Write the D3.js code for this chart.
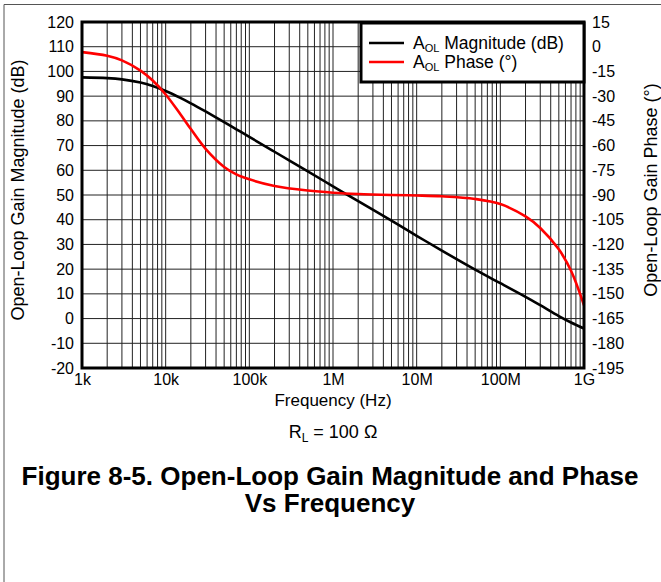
<!DOCTYPE html>
<html>
<head>
<meta charset="utf-8">
<script src="https://cdn.jsdelivr.net/npm/d3@7"></script>
<style>
  body { margin: 0; background: #fff; }
  text { font-family: Arial, "Liberation Sans", sans-serif; fill: #000; }
</style>
</head>
<body>
<script>
// frequency points (Hz)
var freqs = [1e3, 2e3, 3e3, 5e3, 7e3, 1e4, 1.5e4, 2e4, 3e4, 5e4, 7e4, 1e5, 2e5, 5e5,
             1e6, 2e6, 5e6, 1e7, 2e7, 5e7, 1e8, 2e8, 3e8, 5e8, 7e8, 1e9];
var magnitude = [97.6, 97.3, 96.8, 95.5, 94.1, 92.1, 89.3, 87.1, 83.8, 79.5, 76.6, 73.5, 67.5, 59.6,
                 53.5, 47.5, 39.6, 33.5, 27.5, 19.8, 14.3, 8.8, 5.4, 1.0, -1.6, -4.0];
var phase = [-3.3, -5.5, -8.3, -14.5, -20.5, -29, -41, -50, -62, -73, -77.5, -80.5, -84.5, -87.3,
             -88.6, -89.4, -90, -90.3, -90.8, -92.4, -95.5, -103, -110, -123, -136, -157];

var xTicks = [1e3, 1e4, 1e5, 1e6, 1e7, 1e8, 1e9];
var xTickLabels = ["1k", "10k", "100k", "1M", "10M", "100M", "1G"];
var magTicks = d3.range(-20, 121, 10);
var phaseTicks = d3.range(-195, 16, 15);

var W = 661, H = 582;
var margin = {top: 22, right: 77, bottom: 214, left: 82};
var plotW = W - margin.left - margin.right,
    plotH = H - margin.top - margin.bottom;

var svg = d3.select("body")
    .append("svg")
        .attr("width", W)
        .attr("height", H);

// outer frame of the figure
svg.append("path")
    .attr("d", "M4,582 V4.5 H661")
    .attr("fill", "none")
    .attr("stroke", "#555")
    .attr("stroke-width", 1);

var g = svg.append("g")
    .attr("transform", "translate(" + margin.left + "," + margin.top + ")");

var x = d3.scaleLog().domain([1e3, 1e9]).range([0, plotW]);
var yMag = d3.scaleLinear().domain([-20, 120]).range([plotH, 0]);
var yPh = d3.scaleLinear().domain([-195, 15]).range([plotH, 0]);

// grid: 1..9 per decade
var minor = [];
for (var d = 1e3; d < 1e9; d *= 10) {
    for (var k = 1; k < 10; k++) minor.push(d * k);
}
g.append("g")
    .selectAll("line")
    .data(minor)
    .enter()
    .append("line")
        .attr("x1", function(d) { return x(d); })
        .attr("x2", function(d) { return x(d); })
        .attr("y1", 0)
        .attr("y2", plotH)
        .attr("stroke", "#222")
        .attr("stroke-width", 1);

g.append("g")
    .selectAll("line")
    .data(magTicks)
    .enter()
    .append("line")
        .attr("x1", 0)
        .attr("x2", plotW)
        .attr("y1", function(d) { return yMag(d); })
        .attr("y2", function(d) { return yMag(d); })
        .attr("stroke", "#222")
        .attr("stroke-width", 1);

// curves
g.append("clipPath").attr("id", "clip")
    .append("rect").attr("width", plotW).attr("height", plotH);

var magLine = d3.line()
    .x(function(d, i) { return x(freqs[i]); })
    .y(function(d) { return yMag(d); })
    .curve(d3.curveCatmullRom.alpha(0.5));

var phLine = d3.line()
    .x(function(d, i) { return x(freqs[i]); })
    .y(function(d) { return yPh(d); })
    .curve(d3.curveCatmullRom.alpha(0.5));

g.append("path")
    .datum(magnitude)
    .attr("clip-path", "url(#clip)")
    .attr("d", magLine)
    .attr("fill", "none")
    .attr("stroke", "#000")
    .attr("stroke-width", 2.6);

g.append("path")
    .datum(phase)
    .attr("clip-path", "url(#clip)")
    .attr("d", phLine)
    .attr("fill", "none")
    .attr("stroke", "#ff0000")
    .attr("stroke-width", 2.6);

// plot frame
g.append("rect")
    .attr("width", plotW)
    .attr("height", plotH)
    .attr("fill", "none")
    .attr("stroke", "#000")
    .attr("stroke-width", 3);

// axes
var leftAxis = g.append("g")
    .call(d3.axisLeft(yMag).tickValues(magTicks).tickSize(0).tickPadding(8)
        .tickFormat(function(d) { return String(d); }));
var rightAxis = g.append("g")
    .attr("transform", "translate(" + plotW + ",0)")
    .call(d3.axisRight(yPh).tickValues(phaseTicks).tickSize(0).tickPadding(8)
        .tickFormat(function(d) { return String(d); }));
var bottomAxis = g.append("g")
    .attr("transform", "translate(0," + plotH + ")")
    .call(d3.axisBottom(x).tickValues(xTicks).tickSize(0).tickPadding(6)
        .tickFormat(function(d, i) { return xTickLabels[i]; }));

[leftAxis, rightAxis, bottomAxis].forEach(function(a) {
    a.select(".domain").remove();
    a.selectAll("text")
        .style("font-size", "16px")
        .style("font-family", "Arial, 'Liberation Sans', sans-serif")
        .attr("fill", "#000");
});

// axis titles
svg.append("text")
    .attr("transform", "translate(24," + 190 + ") rotate(-90)")
    .attr("text-anchor", "middle")
    .style("font-size", "18px")
    .text("Open-Loop Gain Magnitude (dB)");

svg.append("text")
    .attr("transform", "translate(657," + 190 + ") rotate(-90)")
    .attr("text-anchor", "middle")
    .style("font-size", "18px")
    .text("Open-Loop Gain Phase (°)");

svg.append("text")
    .attr("x", margin.left + plotW / 2)
    .attr("y", 406)
    .attr("text-anchor", "middle")
    .style("font-size", "17px")
    .text("Frequency (Hz)");

// condition label
var rl = svg.append("text")
    .attr("x", 333)
    .attr("y", 438)
    .attr("text-anchor", "middle")
    .style("font-size", "18px");
rl.append("tspan").text("R");
rl.append("tspan").attr("dy", 4).style("font-size", "12px").text("L");
rl.append("tspan").attr("dy", -4).text(" = 100 Ω");

// caption
var captionLines = ["Figure 8-5. Open-Loop Gain Magnitude and Phase", "Vs Frequency"];
svg.selectAll("caption")
    .data(captionLines)
    .enter()
    .append("text")
        .attr("x", 330)
        .attr("y", function(d, i) { return 485 + i * 27; })
        .attr("text-anchor", "middle")
        .style("font-size", "26px")
        .style("font-weight", "bold")
        .text(function(d) { return d; });

// legend
var keys = [{name: " Magnitude (dB)", color: "#000"}, {name: " Phase (°)", color: "#ff0000"}];
var lg = svg.append("g");
lg.append("rect")
    .attr("x", 361)
    .attr("y", 23)
    .attr("width", 223)
    .attr("height", 59)
    .attr("fill", "#fff")
    .attr("stroke", "#000")
    .attr("stroke-width", 3);

lg.selectAll("mylines")
    .data(keys)
    .enter()
    .append("line")
        .attr("x1", 369)
        .attr("x2", 404)
        .attr("y1", function(d, i) { return 43 + i * 19; })
        .attr("y2", function(d, i) { return 43 + i * 19; })
        .attr("stroke", function(d) { return d.color; })
        .attr("stroke-width", 2.6);

var labels = lg.selectAll("mylabels")
    .data(keys)
    .enter()
    .append("text")
        .attr("x", 413)
        .attr("y", function(d, i) { return 49 + i * 19; })
        .style("font-size", "17.5px");
labels.append("tspan").text("A");
labels.append("tspan").attr("dy", 3).style("font-size", "11px").text("OL");
labels.append("tspan").attr("dy", -3).text(function(d) { return d.name; });
</script>
</body>
</html>
